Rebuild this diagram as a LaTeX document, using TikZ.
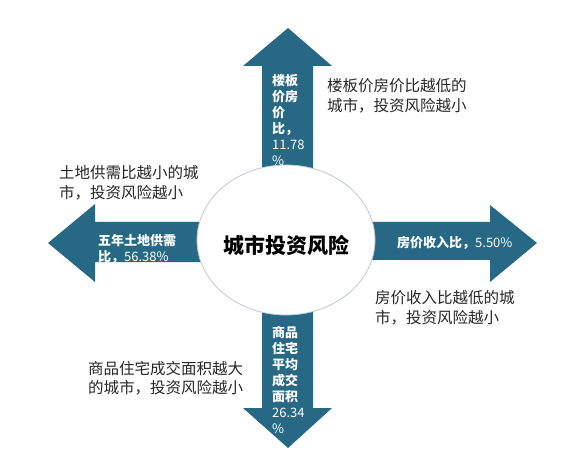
\documentclass[tikz,border=0pt]{standalone}
\usepackage{fontspec}
\setmainfont{Noto Sans CJK SC}
\usetikzlibrary{shapes.geometric}
\definecolor{arrowblue}{RGB}{39,104,133}
\definecolor{rimgrey}{RGB}{184,202,216}

\begin{document}
\begin{tikzpicture}[x=1pt, y=-1pt,
    bigarrow/.style={fill=arrowblue},
    tag/.style={text=white, align=left, inner sep=0pt, anchor=west, font=\fontsize{13}{16}\selectfont\bfseries},
    note/.style={text=black!85, align=left, inner sep=0pt, anchor=west, font=\fontsize{15.5}{19.5}\selectfont}]
    \useasboundingbox (0,0) rectangle (587,476);

    % the four arrows
    \fill[bigarrow] (262,185) -- (262,66) -- (243,66) -- (288,28) -- (332,66) -- (313,66) -- (313,185) -- cycle;
    \fill[bigarrow] (262,300) -- (262,408) -- (243,408) -- (288,448) -- (332,408) -- (313,408) -- (313,300) -- cycle;
    \fill[bigarrow] (215,222) -- (95,222) -- (95,204) -- (48,243) -- (95,282) -- (95,262) -- (215,262) -- cycle;
    \fill[bigarrow] (360,222) -- (490,222) -- (490,205) -- (537,243) -- (490,282) -- (490,260) -- (360,260) -- cycle;

    \node[ellipse, draw=rimgrey, line width=0.8pt, fill=white, inner sep=0pt,
      minimum width=178, minimum height=150] (risk) at (286,240) {};
    \node[font=\fontsize{21}{24}\selectfont\bfseries, inner sep=0pt] (risktext) at (286,245) {城市投资风险};

    % values inside the arrows
    \node[tag] (upval) at (272,120) {楼板\\价房\\价\\比，\\\mdseries 11.78\\\mdseries\%};
    \node[tag] (downval) at (272,380) {商品\\住宅\\平均\\成交\\面积\\\mdseries 26.34\\\mdseries\%};
    \node[tag] (leftval) at (98,249) {五年土地供需\\比，{\mdseries 56.38\%}};
    \node[tag] (rightval) at (397,243) {房价收入比，{\mdseries 5.50\%}};

    % notes beside the arrows
    \node[note] (upnote) at (327,96) {楼板价房价比越低的\\城市，投资风险越小};
    \node[note] (leftnote) at (59,183) {土地供需比越小的城\\市，投资风险越小};
    \node[note] (rightnote) at (375,308) {房价收入比越低的城\\市，投资风险越小};
    \node[note] (downnote) at (88,378) {商品住宅成交面积越大\\的城市，投资风险越小};
\end{tikzpicture}
\end{document}
